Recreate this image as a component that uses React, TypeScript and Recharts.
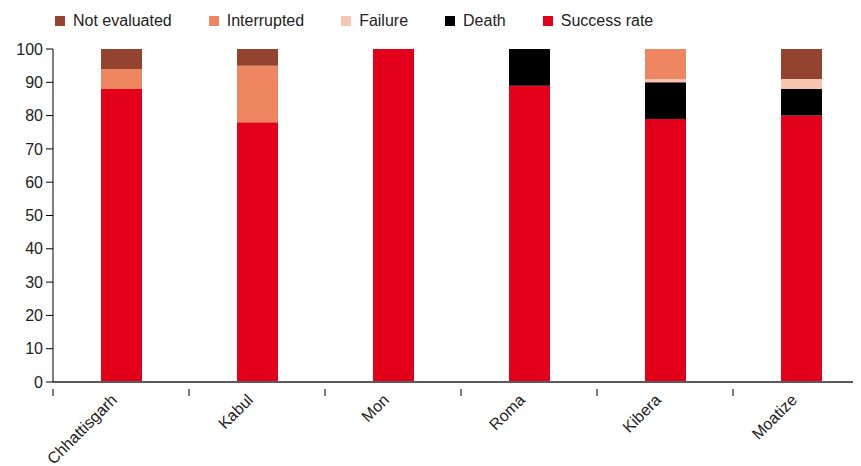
import { BarChart, Bar, XAxis, YAxis, Legend } from "recharts";

const categories = ["Chhattisgarh", "Kabul", "Mon", "Roma", "Kibera", "Moatize"];
const successRate = [88, 78, 100, 89, 79, 80];
const death = [0, 0, 0, 11, 11, 8];
const failure = [0, 0, 0, 0, 1, 3];
const interrupted = [6, 17, 0, 0, 9, 0];
const notEvaluated = [6, 5, 0, 0, 0, 9];
const yTicks = [0, 10, 20, 30, 40, 50, 60, 70, 80, 90, 100];

const data = categories.map((name, i) => ({
  name,
  success: successRate[i],
  death: death[i],
  failure: failure[i],
  interrupted: interrupted[i],
  notEvaluated: notEvaluated[i],
}));

const SERIES = [
  { key: "success", label: "Success rate", color: "#e2001a" },
  { key: "death", label: "Death", color: "#000000" },
  { key: "failure", label: "Failure", color: "#f8c6b0" },
  { key: "interrupted", label: "Interrupted", color: "#ee8662" },
  { key: "notEvaluated", label: "Not evaluated", color: "#93432e" },
];

const FONT = '"Liberation Sans", Arial, Helvetica, sans-serif';
const TEXT = "#222";
const CHART_W = 870;
const CHART_H = 458;
const LEFT = 45;
const RIGHT = 9;
const BAND = (CHART_W - LEFT - RIGHT) / categories.length;

function CategoryTick(props: any) {
  const { x, y, payload } = props;
  const bx = x - BAND / 2;
  const tx = x - 3;
  const ty = y + 11;
  return (
    <g>
      <line x1={bx} y1={y - 1} x2={bx} y2={y + 6} stroke="#000" strokeWidth={1} />
      <text
        x={tx}
        y={ty}
        textAnchor="end"
        fontSize={16}
        fontFamily={FONT}
        fill={TEXT}
        transform={`rotate(-45, ${tx}, ${ty})`}
      >
        {payload.value}
      </text>
    </g>
  );
}

function LegendContent() {
  const items = [...SERIES].reverse();
  return (
    <div style={{ display: "flex", alignItems: "center", fontFamily: FONT, fontSize: 16, color: TEXT, lineHeight: "16px", height: 16 }}>
      {items.map((s) => (
        <div key={s.key} style={{ display: "flex", alignItems: "center", marginRight: 37 }}>
          <span style={{ display: "inline-block", width: 10, height: 10, background: s.color, marginRight: 8 }} />
          <span>{s.label}</span>
        </div>
      ))}
    </div>
  );
}

export default function App() {
  return (
    <div style={{ width: 853, height: CHART_H, overflow: "hidden" }}>
      <BarChart
        width={CHART_W}
        height={CHART_H}
        data={data}
        margin={{ top: 25, right: RIGHT, left: 0, bottom: 0 }}
        barSize={41}
      >
        <Legend
          content={<LegendContent />}
          verticalAlign="top"
          align="left"
          height={16}
          wrapperStyle={{ top: 5, left: 47, width: "auto" }}
        />
        <XAxis
          dataKey="name"
          height={84}
          axisLine={{ stroke: "#5a5a5a", strokeWidth: 2 }}
          tickLine={false}
          tick={<CategoryTick />}
          interval={0}
        />
        <YAxis
          width={LEFT}
          domain={[0, 100]}
          ticks={yTicks}
          interval={0}
          axisLine={{ stroke: "#000" }}
          tickLine={{ stroke: "#000" }}
          tickSize={7}
          tickMargin={3}
          tick={{ fontSize: 16, fontFamily: FONT, fill: TEXT }}
        />
        {SERIES.map((s) => (
          <Bar key={s.key} dataKey={s.key} stackId="a" fill={s.color} isAnimationActive={false} />
        ))}
      </BarChart>
    </div>
  );
}
